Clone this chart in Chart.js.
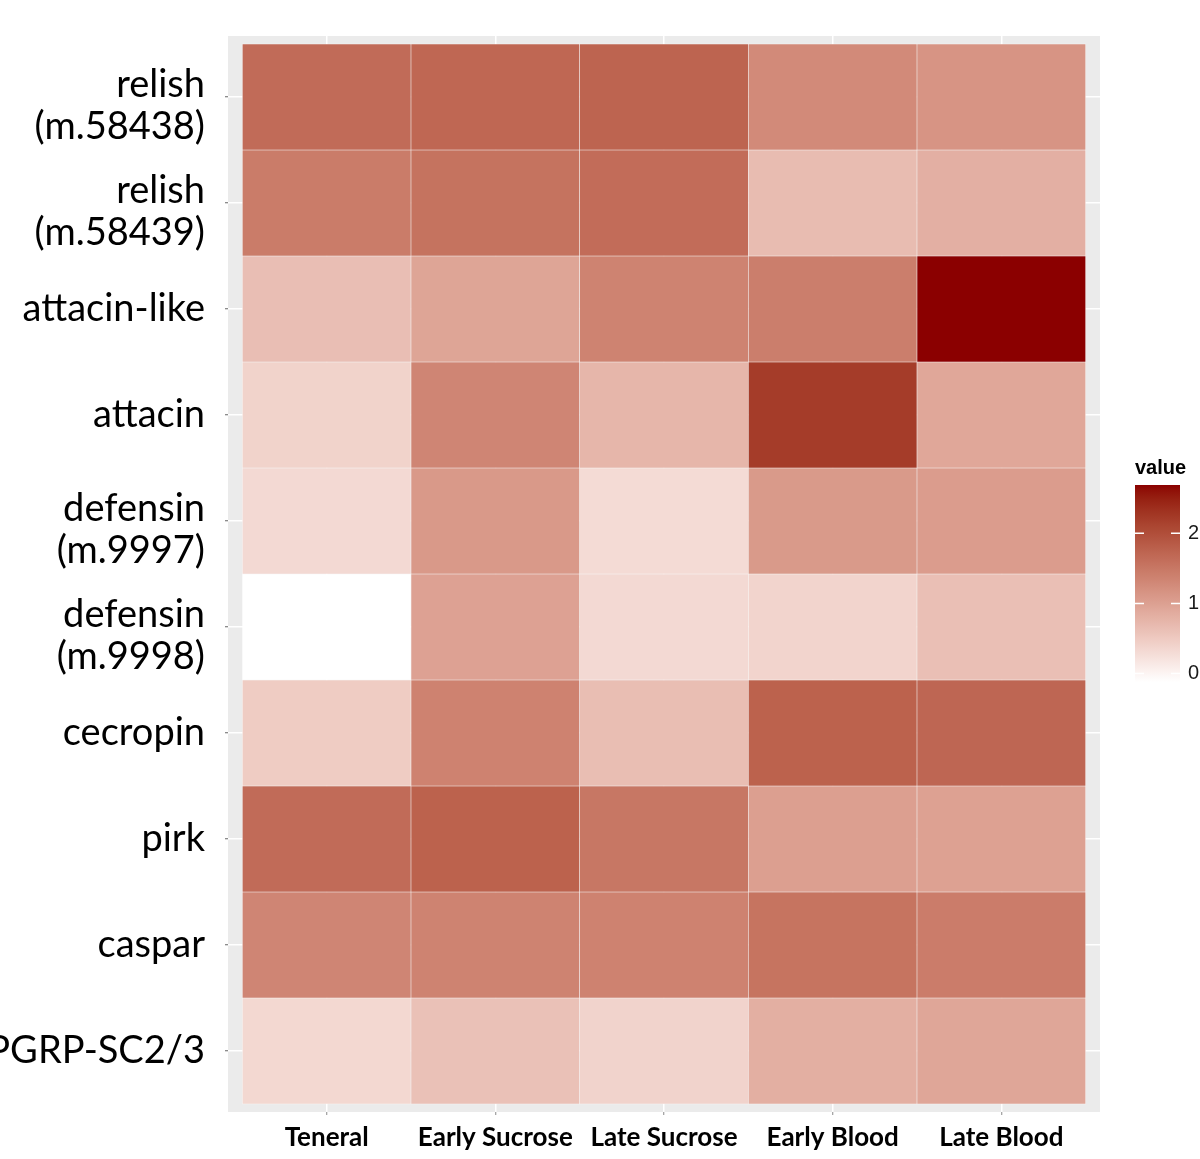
<!DOCTYPE html>
<html><head><meta charset="utf-8">
<script src="https://cdn.jsdelivr.net/npm/chart.js@4.4.1/dist/chart.umd.min.js"></script>
<style>html,body{margin:0;padding:0;background:#fff;}canvas{display:block;}</style>
</head><body>
<canvas id="c" width="1200" height="1159"></canvas>
<script>
// ---- data ----
const conditions = ["Teneral", "Early Sucrose", "Late Sucrose", "Early Blood", "Late Blood"];
const genes = [["relish", "(m.58438)"], ["relish", "(m.58439)"], "attacin-like", "attacin",
  ["defensin", "(m.9997)"], ["defensin", "(m.9998)"], "cecropin", "pirk", "caspar", "PGRP-SC2/3"];
const relish58438 = [1.65, 1.70, 1.74, 1.27, 1.15];
const relish58439 = [1.45, 1.56, 1.64, 0.67, 0.82];
const attacinLike = [0.64, 0.95, 1.36, 1.42, 2.69];
const attacin = [0.40, 1.33, 0.74, 2.21, 0.92];
const defensin9997 = [0.32, 1.09, 0.30, 1.08, 1.05];
const defensin9998 = [-0.12, 0.99, 0.32, 0.38, 0.63];
const cecropin = [0.48, 1.37, 0.65, 1.77, 1.71];
const pirk = [1.65, 1.77, 1.51, 1.02, 1.00];
const caspar = [1.33, 1.36, 1.37, 1.55, 1.44];
const pgrp = [0.34, 0.61, 0.39, 0.83, 0.93];
const legendTicks = [0, 1, 2];
const rows = [relish58438, relish58439, attacinLike, attacin, defensin9997, defensin9998, cecropin, pirk, caspar, pgrp];

// ---- colour scale: white -> darkred, interpolated in CIELAB ----
const allVals = rows.flat();
const vMin = Math.min(...allVals), vMax = Math.max(...allVals);
function srgbToLin(c){c/=255;return c<=0.04045?c/12.92:Math.pow((c+0.055)/1.055,2.4);}
function linToSrgb(c){c=Math.max(0,Math.min(1,c));return Math.round(255*(c<=0.0031308?12.92*c:1.055*Math.pow(c,1/2.4)-0.055));}
const Xn=0.95047,Yn=1,Zn=1.08883;
function rgbToLab(r,g,b){r=srgbToLin(r);g=srgbToLin(g);b=srgbToLin(b);
  const X=(0.4124*r+0.3576*g+0.1805*b)/Xn,Y=(0.2126*r+0.7152*g+0.0722*b)/Yn,Z=(0.0193*r+0.1192*g+0.9505*b)/Zn;
  const f=t=>t>0.008856?Math.cbrt(t):7.787*t+16/116;
  const fx=f(X),fy=f(Y),fz=f(Z);return [116*fy-16,500*(fx-fy),200*(fy-fz)];}
function labToRgb(L,a,b){const fy=(L+16)/116,fx=fy+a/500,fz=fy-b/200;
  const fi=t=>t>0.206893?t*t*t:(t-16/116)/7.787;
  const X=fi(fx)*Xn,Y=fi(fy)*Yn,Z=fi(fz)*Zn;
  const r=3.2406*X-1.5372*Y-0.4986*Z,g=-0.9689*X+1.8758*Y+0.0415*Z,bb=0.0557*X-0.2040*Y+1.0570*Z;
  return `rgb(${linToSrgb(r)},${linToSrgb(g)},${linToSrgb(bb)})`;}
const labLow=rgbToLab(255,255,255),labHigh=rgbToLab(139,0,0);
function colourFor(v){const t=(v-vMin)/(vMax-vMin);
  return labToRgb(labLow[0]+t*(labHigh[0]-labLow[0]),labLow[1]+t*(labHigh[1]-labLow[1]),labLow[2]+t*(labHigh[2]-labLow[2]));}

// ---- datasets: one per gene row, floating bars spanning one row ----
const datasets = rows.map((vals,i)=>({
  label: Array.isArray(genes[i])?genes[i].join(" "):genes[i],
  data: vals.map((v,j)=>({x:j+1, y:[i+0.5, i+1.5]})),
  backgroundColor: vals.map(colourFor),
  borderColor: 'rgba(255,255,255,0.55)',
  borderWidth: 0.6,
  borderSkipped: false,
  barPercentage: 1, categoryPercentage: 1, grouped: false
}));

const panelBg = {id:'panelBg', beforeDraw(chart){const {ctx,chartArea:a}=chart;ctx.save();ctx.fillStyle='#EBEBEB';ctx.fillRect(a.left,a.top,a.right-a.left,a.bottom-a.top);ctx.restore();}};
// nudge two-line gene labels down so their first line sits on the tick, as in the source figure
const labelNudge = {id:'labelNudge', beforeDraw(chart){const s=chart.scales.y;const items=s.getLabelItems(chart.chartArea);
  items.forEach(it=>{if(!it._nudged){if(Array.isArray(it.label)&&it.label.length>1){it.options.translation[1]+=9;}it._nudged=true;}});}};
const colourBar = {id:'colourBar', afterDraw(chart){
  const ctx=chart.ctx; const x=1135,w=45,top=485,bot=682,h=bot-top;
  ctx.save();
  const g=ctx.createLinearGradient(0,bot,0,top);
  for(let k=0;k<=40;k++){const v=vMin+(vMax-vMin)*k/40;g.addColorStop(k/40,colourFor(v));}
  ctx.fillStyle=g;ctx.fillRect(x,top,w,h);
  ctx.font='bold 20px "Liberation Sans", Arial, sans-serif';ctx.fillStyle='#000';ctx.textBaseline='middle';ctx.textAlign='left';
  ctx.fillText('value',x,468);
  ctx.font='20px "Liberation Sans", Arial, sans-serif';ctx.fillStyle='#1a1a1a';
  legendTicks.forEach(t=>{const y=bot-(t-vMin)/(vMax-vMin)*h;
    ctx.strokeStyle='#fff';ctx.lineWidth=1.5;ctx.beginPath();ctx.moveTo(x,y);ctx.lineTo(x+9,y);ctx.moveTo(x+w-9,y);ctx.lineTo(x+w,y);ctx.stroke();
    ctx.fillText(String(t),x+w+8,y);});
  ctx.restore();}};

new Chart(document.getElementById('c'),{
  type:'bar',
  data:{datasets},
  options:{
    responsive:false, animation:false,
    layout:{padding:{top:36,right:100,left:0,bottom:0}},
    plugins:{legend:{display:false},tooltip:{enabled:false}},
    scales:{
      x:{type:'linear',position:'bottom',min:0.415,max:5.585,offset:false,
        afterBuildTicks:s=>{s.ticks=conditions.map((c,j)=>({value:j+1}));},
        afterFit:s=>{s.height=47;s.paddingLeft=0;s.paddingRight=0;},
        grid:{color:'#ffffff',lineWidth:1.5,offset:false,drawTicks:true,tickLength:3,tickColor:'#888',tickWidth:1},
        border:{display:false},
        ticks:{autoSkip:false,maxRotation:0,padding:7,color:'#000',font:{family:'Lato, Carlito, "Open Sans", sans-serif',size:26,weight:'bold'},
          callback:v=>conditions[Math.round(v)-1]}},
      y:{type:'linear',reverse:true,min:0.425,max:10.575,
        afterBuildTicks:s=>{s.ticks=genes.map((g,i)=>({value:i+1}));},
        afterFit:s=>{s.width=228;s.paddingTop=0;s.paddingBottom=0;},
        grid:{color:'#ffffff',lineWidth:1.5,drawTicks:true,tickLength:3,tickColor:'#666',tickWidth:1},
        border:{display:false},
        ticks:{autoSkip:false,padding:20,color:'#000',font:{family:'Lato, Carlito, "Open Sans", sans-serif',size:38,lineHeight:1.1},
          callback:v=>genes[Math.round(v)-1]}}
    }
  },
  plugins:[panelBg,labelNudge,colourBar]
});
</script>
</body></html>
